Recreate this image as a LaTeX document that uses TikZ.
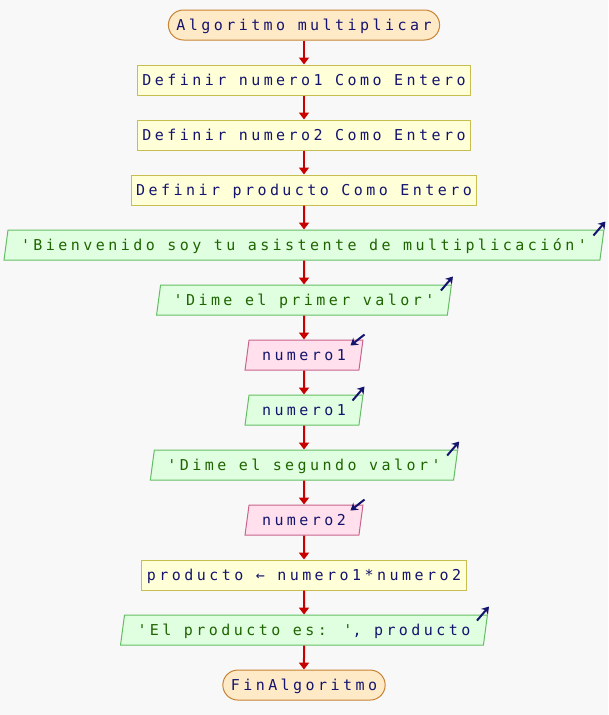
\documentclass[tikz,border=0pt]{standalone}
\usepackage{fontspec}
\usetikzlibrary{positioning,shapes.geometric,arrows.meta}
\newfontfamily\psefont[LetterSpace=23]{DejaVu Sans Mono}
\definecolor{fondo}{RGB}{248,248,248}
\definecolor{texto}{RGB}{20,20,110}
\definecolor{cadenacol}{RGB}{30,100,0}
\definecolor{rojo}{RGB}{200,0,0}
\definecolor{termfill}{RGB}{255,234,200}
\definecolor{termdraw}{RGB}{200,130,50}
\definecolor{procfill}{RGB}{255,255,216}
\definecolor{procdraw}{RGB}{200,190,80}
\definecolor{salfill}{RGB}{224,255,224}
\definecolor{saldraw}{RGB}{100,190,100}
\definecolor{entfill}{RGB}{255,224,236}
\definecolor{entdraw}{RGB}{200,100,140}
\newcommand{\cadena}[1]{\textcolor{cadenacol}{#1}}

\begin{document}
\begin{tikzpicture}[x=1pt,y=1pt,node distance=24pt,
    base/.style={font=\psefont\fontsize{15}{17}\selectfont, text=texto,
      text height=11pt, text depth=0pt, inner ysep=0pt, minimum height=30pt, line width=1pt},
    terminal/.style={base, draw=termdraw, fill=termfill, rounded corners=15pt, inner xsep=8pt},
    proceso/.style={base, draw=procdraw, fill=procfill, inner xsep=5pt},
    salida/.style={base, draw=saldraw, fill=salfill, trapezium, trapezium left angle=70,
      trapezium right angle=110, trapezium stretches=true, inner xsep=13pt},
    entrada/.style={base, draw=entdraw, fill=entfill, trapezium, trapezium left angle=70,
      trapezium right angle=110, trapezium stretches=true, inner xsep=13pt},
    flecha/.style={draw=rojo, line width=2pt, -{Triangle[width=10pt,length=7pt]}},
    marca/.style={draw=texto, line width=2pt, -{Stealth[width=9pt,length=7pt]}}]
  \fill[fondo] (0,0) rectangle (608,-715);
  \useasboundingbox (0,0) rectangle (608,-715);

  \node[terminal] (inicio) at (304,-25) {Algoritmo multiplicar};
  \node[proceso, below=of inicio] (def1) {Definir numero1 Como Entero};
  \node[proceso, below=of def1] (def2) {Definir numero2 Como Entero};
  \node[proceso, below=of def2] (def3) {Definir producto Como Entero};
  \node[salida, below=of def3] (esc1) {\cadena{'Bienvenido soy tu asistente de multiplicación'}};
  \node[salida, below=of esc1] (esc2) {\cadena{'Dime el primer valor'}};
  \node[entrada, below=of esc2] (leer1) {numero1};
  \node[salida, below=of leer1] (esc3) {numero1};
  \node[salida, below=of esc3] (esc4) {\cadena{'Dime el segundo valor'}};
  \node[entrada, below=of esc4] (leer2) {numero2};
  \node[proceso, below=of leer2] (asig) {producto ← numero1*numero2};
  \node[salida, below=of asig] (esc5) {\cadena{'El producto es: '}, producto};
  \node[terminal, below=of esc5] (fin) {FinAlgoritmo};

  % flujo
  \foreach \a/\b in {inicio/def1, def1/def2, def2/def3, def3/esc1, esc1/esc2, esc2/leer1,
      leer1/esc3, esc3/esc4, esc4/leer2, leer2/asig, asig/esc5, esc5/fin}
    \draw[flecha] (\a) -- (\b);

  % marcas de entrada y salida
  \foreach \s in {esc1, esc2, esc3, esc4, esc5}
    \draw[marca] ([shift={(-11,-6)}]\s.top right corner) -- ([shift={(1,8)}]\s.top right corner);
  \foreach \e in {leer1, leer2}
    \draw[marca] ([shift={(1,5)}]\e.top right corner) -- ([shift={(-13,-6)}]\e.top right corner);
\end{tikzpicture}
\end{document}
